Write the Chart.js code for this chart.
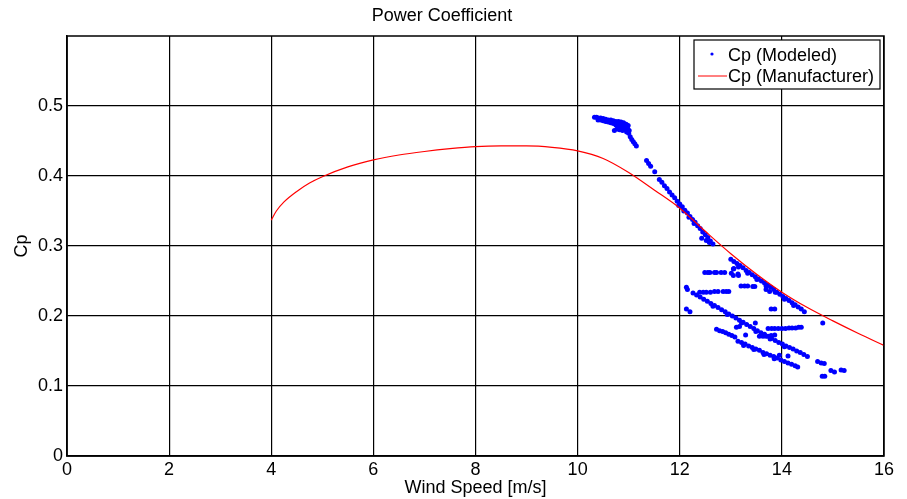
<!DOCTYPE html>
<html>
<head>
<meta charset="utf-8">
<script src="https://cdn.jsdelivr.net/npm/chart.js@4.4.0/dist/chart.umd.min.js"></script>
<style>
  body { margin: 0; background: #fff; }
  #wrap { width: 907px; height: 499px; }
</style>
</head>
<body>
<div id="wrap"><canvas id="cpChart"></canvas></div>
<script>
// manufacturer curve
const mfrWind = [4.0, 4.1, 4.25, 4.5, 4.75, 5, 5.5, 6, 6.5, 7, 7.5, 8, 8.5, 9, 9.5, 10, 10.5, 11, 11.5, 12, 12.5, 13, 13.5, 14, 14.5, 15, 15.5, 16];
const mfrCp = [0.337, 0.350, 0.363, 0.378, 0.390, 0.399, 0.413, 0.423, 0.430, 0.435, 0.439, 0.442, 0.443, 0.443, 0.441, 0.436, 0.425, 0.405, 0.380, 0.354, 0.321, 0.289, 0.260, 0.234, 0.212, 0.193, 0.175, 0.158];

// modeled points [wind speed, cp], grouped by the clusters seen in the plot
const topCluster = [
  [10.33,0.484],[10.37,0.484],[10.40,0.483],[10.45,0.483],[10.50,0.482],[10.55,0.481],[10.60,0.480],[10.65,0.480],[10.70,0.479],[10.75,0.478],[10.80,0.478],[10.85,0.477],[10.90,0.476],[10.95,0.474],
  [10.40,0.480],[10.45,0.480],[10.50,0.479],[10.55,0.478],[10.60,0.477],[10.65,0.476],[10.70,0.475],[10.75,0.473],[10.80,0.472],[10.85,0.471],[10.90,0.470],[10.95,0.468],
  [10.75,0.476],[10.80,0.475],[10.85,0.474],[10.90,0.473],[10.95,0.471],[10.99,0.472],
  [10.72,0.465],[10.77,0.467],[10.82,0.466],[10.86,0.468],[10.88,0.465],[10.92,0.466],[10.96,0.463],[11.00,0.461],[10.98,0.468],[11.01,0.465],
  [11.03,0.456],[11.06,0.452],[11.09,0.449],[11.12,0.446],[11.15,0.443],[11.35,0.422],[11.39,0.418],[11.43,0.414],[11.51,0.406]
];
const steepLine = [
  [11.60,0.395],[11.65,0.391],[11.70,0.386],[11.75,0.382],[11.80,0.377],[11.85,0.373],[11.90,0.369],[11.95,0.364],[12.00,0.360],[12.05,0.356],[12.10,0.351],
  [12.15,0.347],[12.20,0.342],[12.25,0.338],[12.30,0.334],[12.35,0.329],[12.40,0.325],[12.45,0.320],[12.50,0.316],[12.55,0.312],[12.60,0.307],[12.65,0.303],
  [11.98,0.358],[12.08,0.350],[12.18,0.341],[12.28,0.332],
  [12.43,0.311],[12.52,0.308],[12.58,0.305]
];
const lineA = [
  [13.00,0.281],[13.06,0.278],[13.12,0.275],[13.18,0.272],[13.24,0.269],[13.30,0.265],[13.36,0.262],[13.42,0.259],[13.48,0.256],[13.54,0.253],[13.60,0.250],
  [13.66,0.247],[13.72,0.244],[13.78,0.241],[13.84,0.238],[13.90,0.234],[13.96,0.231],[14.02,0.228],[14.08,0.225],[14.14,0.222],[14.20,0.219],[14.26,0.216],
  [14.32,0.213],[14.38,0.210],[14.44,0.206],
  [13.15,0.270],[13.33,0.261],[13.51,0.252],[13.69,0.243],[13.87,0.234],[14.05,0.224],[14.23,0.215],
  [13.05,0.267],[13.05,0.258],[13.15,0.258]
];
const lineB = [
  [12.26,0.233],[12.33,0.230],[12.40,0.227],[12.47,0.224],[12.54,0.221],[12.61,0.218],[12.68,0.215],[12.75,0.212],[12.82,0.209],[12.89,0.206],[12.96,0.203],
  [13.03,0.200],[13.10,0.197],[13.17,0.194],[13.24,0.191],[13.31,0.188],[13.38,0.185],[13.45,0.182],[13.52,0.179],[13.59,0.176],[13.66,0.174],[13.73,0.171],
  [13.80,0.168],[13.87,0.165],[13.94,0.162],[14.01,0.160],[14.08,0.157],[14.15,0.155],[14.22,0.153],[14.29,0.150],[14.36,0.148],[14.43,0.145],[14.50,0.142],
  [12.65,0.214],[12.93,0.202],[13.21,0.190],[13.49,0.178],[13.77,0.167],[14.05,0.156]
];
const lineC = [
  [12.72,0.181],[12.78,0.179],[12.84,0.178],[12.90,0.176],[12.96,0.174],[13.02,0.172],[13.08,0.170],
  [13.14,0.164],[13.21,0.162],[13.28,0.160],[13.35,0.157],[13.42,0.155],[13.49,0.153],[13.56,0.151],[13.63,0.148],[13.70,0.146],[13.77,0.144],
  [13.84,0.142],[13.91,0.140],[13.98,0.137],[14.05,0.135],[14.12,0.133],[14.19,0.131],[14.26,0.129],[14.31,0.127],
  [13.25,0.158],[13.45,0.152],[13.65,0.145],[13.85,0.139]
];
const flatRows = [
  [12.49,0.262],[12.55,0.262],[12.59,0.262],[12.68,0.262],[12.72,0.262],[12.81,0.262],[12.88,0.262],[13.01,0.261],[13.06,0.268],[13.14,0.260],
  [13.20,0.243],[13.27,0.243],[13.33,0.243],[13.43,0.242],[13.47,0.242],[13.69,0.238],[13.76,0.235],
  [12.13,0.241],[12.15,0.238],[12.39,0.234],[12.46,0.234],[12.52,0.234],[12.60,0.234],[12.68,0.235],[12.75,0.235],[12.85,0.235],[12.91,0.235],[12.96,0.235],
  [12.13,0.210],[12.20,0.206],[13.79,0.210],[13.86,0.210],
  [13.73,0.182],[13.80,0.182],[13.86,0.182],[13.93,0.182],[14.00,0.182],[14.07,0.182],[14.14,0.183],[14.20,0.183],[14.27,0.183],[14.33,0.184],[14.38,0.184],
  [13.56,0.171],[13.63,0.171],[13.69,0.171],[13.79,0.172],[13.86,0.173]
];
const strayPoints = [
  [13.11,0.184],[13.17,0.185],[13.29,0.173],[13.48,0.190],[13.95,0.144],[14.12,0.143],[14.70,0.135],[14.77,0.133],[14.83,0.132],
  [14.79,0.114],[14.84,0.114],[14.96,0.122],[15.03,0.120],[15.16,0.123],[15.22,0.122],[14.80,0.190]
];

const xTicks = [0, 2, 4, 6, 8, 10, 12, 14, 16];
const yTicks = [0, 0.1, 0.2, 0.3, 0.4, 0.5];

const modeled = [].concat(topCluster, steepLine, lineA, lineB, lineC, flatRows, strayPoints)
  .map(p => ({ x: p[0], y: p[1] }));
const manufacturer = mfrWind.map((w, i) => ({ x: w, y: mfrCp[i] }));

Chart.defaults.font.family = "'Liberation Sans', Arial, sans-serif";
Chart.defaults.font.size = 18;
Chart.defaults.color = "#000";

// box around the axes + matlab style legend
const frameAndLegend = {
  id: "frameAndLegend",
  afterDraw(chart) {
    const { ctx, chartArea: a } = chart;
    ctx.save();
    ctx.strokeStyle = "#000";
    ctx.lineWidth = 1.5;
    ctx.strokeRect(a.left, a.top, a.right - a.left, a.bottom - a.top);

    const bx = a.right - 190, by = a.top + 4, bw = 186, bh = 49;
    ctx.fillStyle = "#fff";
    ctx.fillRect(bx, by, bw, bh);
    ctx.lineWidth = 1.2;
    ctx.strokeRect(bx, by, bw, bh);

    ctx.fillStyle = "#0000ff";
    ctx.beginPath();
    ctx.arc(bx + 18, by + 14, 1.6, 0, Math.PI * 2);
    ctx.fill();

    ctx.strokeStyle = "#ff0000";
    ctx.lineWidth = 1;
    ctx.beginPath();
    ctx.moveTo(bx + 4, by + 36);
    ctx.lineTo(bx + 33, by + 36);
    ctx.stroke();

    ctx.fillStyle = "#000";
    ctx.font = "18px 'Liberation Sans', Arial, sans-serif";
    ctx.textBaseline = "alphabetic";
    ctx.fillText("Cp (Modeled)", bx + 34, by + 21);
    ctx.fillText("Cp (Manufacturer)", bx + 34, by + 42);
    ctx.restore();
  }
};

new Chart(document.getElementById("cpChart"), {
  type: "scatter",
  data: {
    datasets: [
      {
        label: "Cp (Manufacturer)",
        data: manufacturer,
        showLine: true,
        borderColor: "#ff0000",
        borderWidth: 1.2,
        pointRadius: 0,
        cubicInterpolationMode: "monotone",
        fill: false,
      },
      {
        label: "Cp (Modeled)",
        data: modeled,
        backgroundColor: "#0000ff",
        borderWidth: 0,
        pointRadius: 2.5,
        pointHoverRadius: 2.5,
      },
    ],
  },
  options: {
    responsive: true,
    maintainAspectRatio: false,
    animation: false,
    layout: { padding: { left: 0, right: 23, top: 0, bottom: 0 } },
    scales: {
      x: {
        type: "linear",
        min: 0,
        max: 16,
        afterBuildTicks: (scale) => { scale.ticks = xTicks.map(v => ({ value: v })); },
        afterFit: (scale) => { scale.height = 43; },
        ticks: { padding: 3, maxRotation: 0, callback: (v) => String(v) },
        grid: { color: "#000", lineWidth: 1.2, drawTicks: false },
        border: { color: "#000", width: 1.5 },
        title: { display: true, text: "Wind Speed [m/s]", padding: { top: 0, bottom: 0 } },
      },
      y: {
        min: 0,
        max: 0.6,
        afterBuildTicks: (scale) => { scale.ticks = yTicks.map(v => ({ value: v })); },
        afterFit: (scale) => { scale.width = 67; },
        ticks: { padding: 4, callback: (v) => String(Math.round(v * 10) / 10) },
        grid: { color: "#000", lineWidth: 1.2, drawTicks: false },
        border: { color: "#000", width: 1.5 },
        title: { display: true, text: "Cp", padding: { top: 11, bottom: 0 } },
      },
    },
    plugins: {
      legend: { display: false },
      tooltip: { enabled: false },
      title: {
        display: true,
        text: "Power Coefficient",
        font: { size: 18, weight: "normal" },
        padding: { top: 5, bottom: 9.4 },
      },
    },
  },
  plugins: [frameAndLegend],
});
</script>
</body>
</html>
